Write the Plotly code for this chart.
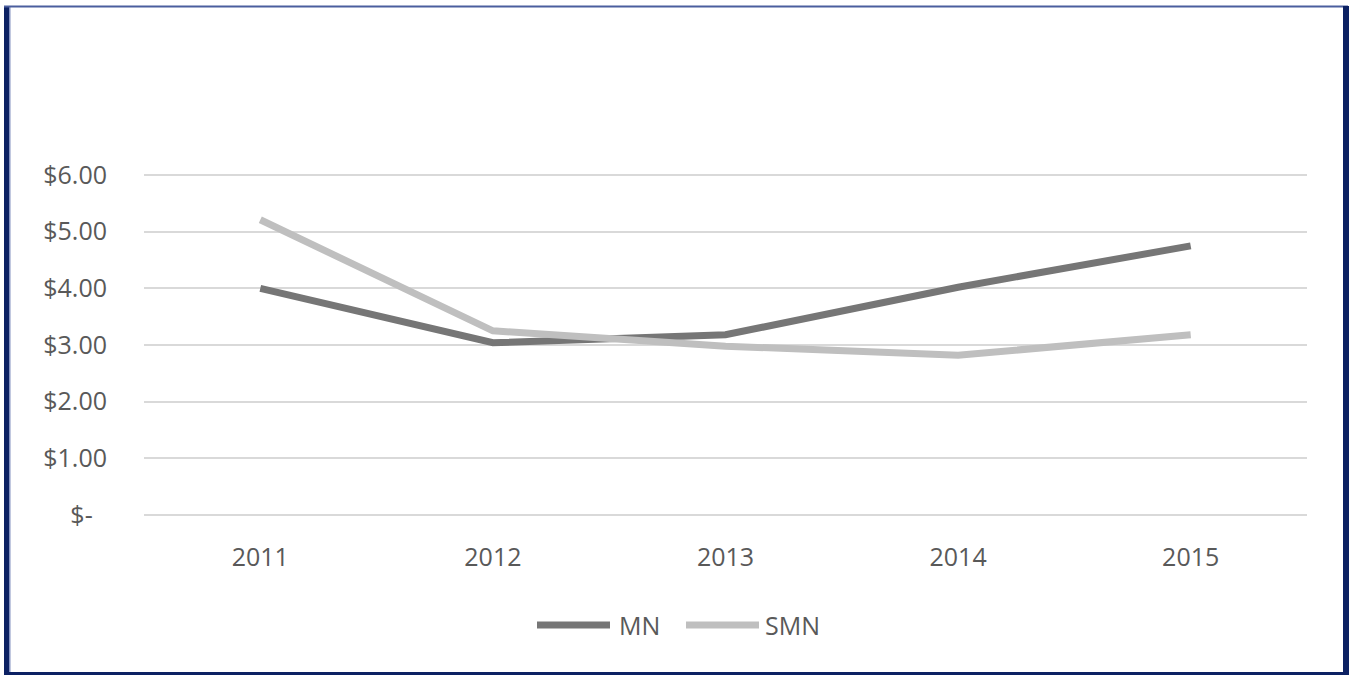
import plotly.graph_objects as go

years = ["2011", "2012", "2013", "2014", "2015"]
mn = [4.00, 3.04, 3.18, 4.02, 4.75]
smn = [5.21, 3.25, 2.98, 2.82, 3.18]
ytick_vals = [0, 1, 2, 3, 4, 5, 6]
ytick_text = ["$-\u2007", "$1.00", "$2.00", "$3.00", "$4.00", "$5.00", "$6.00"]
series_names = ["MN", "SMN"]
series_colors = ["#767676", "#bfbfbf"]

W, H = 1355, 675
Y_TOP, Y_BOT = 175, 515       # pixel rows of $6.00 and $- gridlines
PADPX = 3
L, R = 144, 1307
T, B = Y_TOP - PADPX, Y_BOT + PADPX
YMIN, YMAX = 0, 6
u = (YMAX - YMIN) / (Y_BOT - Y_TOP)   # data units per pixel

def px(x):
    return (x - L) / (R - L)

def py(y):
    return (B - y) / (B - T)

fig = go.Figure()
for name, vals, col in zip(series_names, [mn, smn], series_colors):
    fig.add_trace(go.Scatter(x=years, y=vals, name=name, mode="lines",
                             line=dict(color=col, width=7), showlegend=False))

navy = "#0c2163"
shapes = [
    dict(type="rect", xref="paper", yref="paper", x0=px(4), x1=px(9), y0=py(6), y1=py(675),
         fillcolor=navy, line=dict(width=0), layer="above"),
    dict(type="rect", xref="paper", yref="paper", x0=px(9), x1=px(10.5), y0=py(6), y1=py(672),
         fillcolor="#8391bf", line=dict(width=0), layer="above"),
    dict(type="rect", xref="paper", yref="paper", x0=px(4), x1=px(1348), y0=py(5.5), y1=py(7.5),
         fillcolor="#4b5e9e", line=dict(width=0), layer="above"),
    dict(type="rect", xref="paper", yref="paper", x0=px(1343), x1=px(1349), y0=py(6), y1=py(675),
         fillcolor=navy, line=dict(width=0), layer="above"),
    dict(type="rect", xref="paper", yref="paper", x0=px(4), x1=px(1349), y0=py(672), y1=py(675),
         fillcolor=navy, line=dict(width=0), layer="above"),
]

font = "Open Sans, Liberation Sans, sans-serif"
annotations = []
legend_items = [(537, 610, 617), (686, 759, 763)]
for (x0, x1, xt), name, col in zip(legend_items, series_names, series_colors):
    shapes.append(dict(type="line", xref="paper", yref="paper", x0=px(x0), x1=px(x1),
                       y0=py(625), y1=py(625), line=dict(color=col, width=7)))
    annotations.append(dict(xref="paper", yref="paper", x=px(xt), y=py(625), text=name,
                            showarrow=False, xanchor="left", yanchor="middle",
                            font=dict(family=font, size=25, color="#595959")))

fig.update_layout(
    width=W, height=H,
    margin=dict(l=L, r=W - R, t=T, b=H - B, pad=0),
    paper_bgcolor="white", plot_bgcolor="white",
    font=dict(family=font, size=25, color="#595959"),
    shapes=shapes, annotations=annotations,
    showlegend=False,
    xaxis=dict(type="category", range=[-0.5, 4.5], showgrid=False, zeroline=False,
               showline=False, ticks="", ticklabelstandoff=22,
               tickfont=dict(family=font, size=25, color="#595959")),
    yaxis=dict(range=[YMIN - PADPX * u, YMAX + PADPX * u], tickvals=ytick_vals,
               ticktext=ytick_text,
               showgrid=True, gridcolor="#d9d9d9", gridwidth=2,
               zeroline=False, showline=False, ticks="", ticklabelstandoff=36,
               tickfont=dict(family=font, size=25, color="#595959")),
)
fig.write_html("out.html")
